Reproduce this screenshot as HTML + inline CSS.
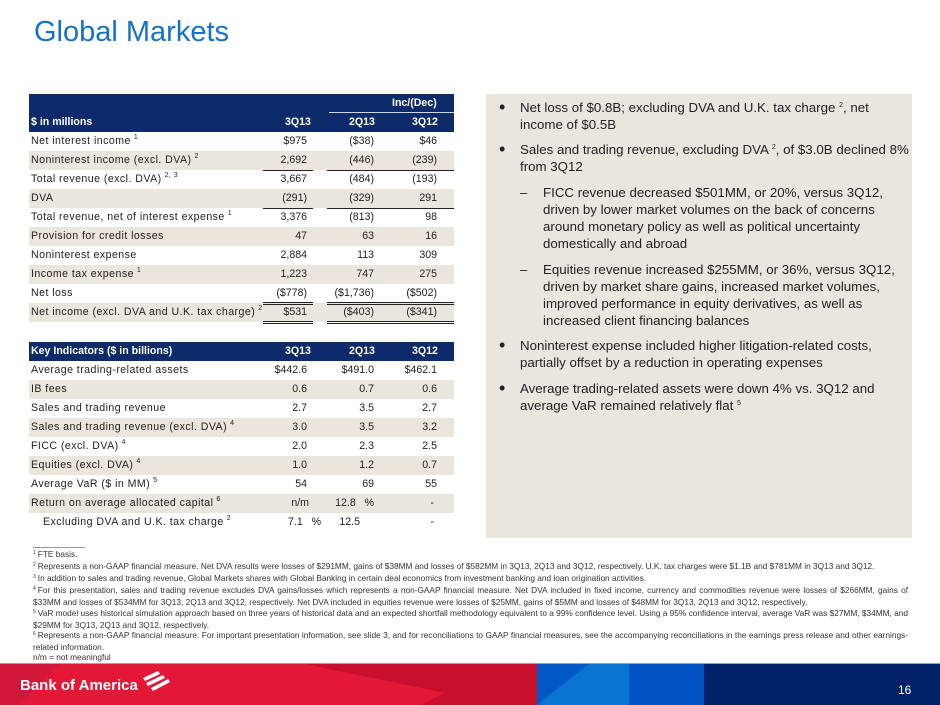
<!DOCTYPE html>
<html><head><meta charset="utf-8"><style>
*{margin:0;padding:0;box-sizing:border-box}
body{width:940px;height:705px;position:relative;overflow:hidden;background:#fff;font-family:"Liberation Sans",sans-serif}
.a{position:absolute}
.title{left:34px;top:16px;font-size:29px;color:#1471cc}
.tbl{position:absolute;left:29px;width:425px}
.row{position:absolute;left:0;width:425px;height:19px;font-size:10.6px;letter-spacing:0.45px;color:#222;line-height:19px}
.row.b{background:#ebe6dd}
.row .l{position:absolute;left:2px;top:0}
.row .c1,.row .c2,.row .c3{position:absolute;top:0;text-align:right;letter-spacing:0}
.c1{right:147px}.c2{right:80px}.c3{right:17px}
sup{font-size:7px;vertical-align:5px;margin-left:3px;line-height:0}
.hdr{position:absolute;background:#0d2a6b;color:#fff;font-weight:bold;font-size:10.6px;left:0;width:425px}
.hl{position:absolute}
.ln{position:absolute;height:1px;background:#222}
.box{left:486px;top:94px;width:426px;height:444px;background:#ebe6dd}
.bl{position:absolute;font-size:13.3px;line-height:17px;color:#222}
.dot{font-size:18px;line-height:17px}
.fn{position:absolute;left:33px;font-size:8.3px;color:#333;line-height:11.5px;width:875px;text-align:justify}
.fn sup{margin:0 2px 0 0;font-size:5px;vertical-align:3px}
</style></head><body>
<div class="a title">Global Markets</div>

<div class="tbl" style="top:94px">
 <div class="hdr" style="top:0;height:38px">
  <div class="hl" style="left:363px;top:3px">Inc/(Dec)</div>
  <div style="position:absolute;left:300px;top:18px;width:125px;height:1px;background:#cfd6e6"></div>
  <div class="hl" style="left:2px;top:22px">$ in millions</div>
  <div class="hl" style="left:256px;top:22px">3Q13</div>
  <div class="hl" style="left:320px;top:22px">2Q13</div>
  <div class="hl" style="left:383px;top:22px">3Q12</div>
 </div>
 <div class="row" style="top:38px"><span class="l">Net interest income<sup>1</sup></span><span class="c1">$975</span><span class="c2">($38)</span><span class="c3">$46</span></div>
 <div class="row b" style="top:57px"><span class="l">Noninterest income (excl. DVA)<sup>2</sup></span><span class="c1">2,692</span><span class="c2">(446)</span><span class="c3">(239)</span></div>
 <div class="row" style="top:76px"><span class="l">Total revenue (excl. DVA)<sup>2, 3</sup></span><span class="c1">3,667</span><span class="c2">(484)</span><span class="c3">(193)</span></div>
 <div class="row b" style="top:95px"><span class="l">DVA</span><span class="c1">(291)</span><span class="c2">(329)</span><span class="c3">291</span></div>
 <div class="row" style="top:114px"><span class="l">Total revenue, net of interest expense<sup>1</sup></span><span class="c1">3,376</span><span class="c2">(813)</span><span class="c3">98</span></div>
 <div class="row b" style="top:133px"><span class="l">Provision for credit losses</span><span class="c1">47</span><span class="c2">63</span><span class="c3">16</span></div>
 <div class="row" style="top:152px"><span class="l">Noninterest expense</span><span class="c1">2,884</span><span class="c2">113</span><span class="c3">309</span></div>
 <div class="row b" style="top:171px"><span class="l">Income tax expense<sup>1</sup></span><span class="c1">1,223</span><span class="c2">747</span><span class="c3">275</span></div>
 <div class="row" style="top:190px"><span class="l">Net loss</span><span class="c1">($778)</span><span class="c2">($1,736)</span><span class="c3">($502)</span></div>
 <div class="row b" style="top:209px"><span class="l">Net income (excl. DVA and U.K. tax charge)<sup>2</sup></span><span class="c1">$531</span><span class="c2">($403)</span><span class="c3">($341)</span></div>
 <div class="ln" style="top:76px;left:234px;width:50px"></div><div class="ln" style="top:76px;left:298px;width:127px"></div>
 <div class="ln" style="top:114px;left:234px;width:50px"></div><div class="ln" style="top:114px;left:298px;width:127px"></div>
 <div class="ln" style="top:208px;left:234px;width:50px"></div><div class="ln" style="top:208px;left:298px;width:127px"></div>
 <div class="ln" style="top:210px;left:234px;width:50px"></div><div class="ln" style="top:210px;left:298px;width:127px"></div>
 <div class="ln" style="top:227px;left:234px;width:50px"></div><div class="ln" style="top:227px;left:298px;width:127px"></div>
 <div class="ln" style="top:229px;left:234px;width:50px"></div><div class="ln" style="top:229px;left:298px;width:127px"></div>
</div>

<div class="tbl" style="top:342px">
 <div class="hdr" style="top:0;height:19px;line-height:19px">
  <div class="hl" style="left:2px">Key Indicators ($ in billions)</div>
  <div class="hl" style="left:256px">3Q13</div>
  <div class="hl" style="left:320px">2Q13</div>
  <div class="hl" style="left:383px">3Q12</div>
 </div>
 <div class="row" style="top:19px"><span class="l">Average trading-related assets</span><span class="c1">$442.6</span><span class="c2">$491.0</span><span class="c3">$462.1</span></div>
 <div class="row b" style="top:38px"><span class="l">IB fees</span><span class="c1">0.6</span><span class="c2">0.7</span><span class="c3">0.6</span></div>
 <div class="row" style="top:57px"><span class="l">Sales and trading revenue</span><span class="c1">2.7</span><span class="c2">3.5</span><span class="c3">2.7</span></div>
 <div class="row b" style="top:76px"><span class="l">Sales and trading revenue (excl. DVA)<sup>4</sup></span><span class="c1">3.0</span><span class="c2">3.5</span><span class="c3">3.2</span></div>
 <div class="row" style="top:95px"><span class="l">FICC (excl. DVA)<sup>4</sup></span><span class="c1">2.0</span><span class="c2">2.3</span><span class="c3">2.5</span></div>
 <div class="row b" style="top:114px"><span class="l">Equities (excl. DVA)<sup>4</sup></span><span class="c1">1.0</span><span class="c2">1.2</span><span class="c3">0.7</span></div>
 <div class="row" style="top:133px"><span class="l">Average VaR ($ in MM)<sup>5</sup></span><span class="c1">54</span><span class="c2">69</span><span class="c3">55</span></div>
 <div class="row b" style="top:152px"><span class="l">Return on average allocated capital<sup>6</sup></span><span class="c1" style="right:145px">n/m</span><span class="c2">12.8 &nbsp;&nbsp;%</span><span class="c3" style="right:20px">-</span></div>
 <div class="row" style="top:171px"><span class="l" style="left:14px">Excluding DVA and U.K. tax charge<sup>2</sup></span><span class="c1" style="right:133px">7.1 &nbsp;&nbsp;%</span><span class="c2" style="right:94px">12.5</span><span class="c3" style="right:20px">-</span></div>
</div>

<div class="a box"></div>
<div class="bl dot" style="left:499px;top:99px">•</div>
<div class="bl" style="left:520px;top:99px;width:385px">Net loss of $0.8B; excluding DVA and U.K. tax charge <sup style="margin:0">2</sup>, net income of $0.5B</div>
<div class="bl dot" style="left:499px;top:141px">•</div>
<div class="bl" style="left:520px;top:141px;width:390px">Sales and trading revenue, excluding DVA <sup style="margin:0">2</sup>, of $3.0B declined 8% from 3Q12</div>
<div class="bl" style="left:520px;top:184px">–</div>
<div class="bl" style="left:543px;top:184px;width:365px">FICC revenue decreased $501MM, or 20%, versus 3Q12, driven by lower market volumes on the back of concerns around monetary policy as well as political uncertainty domestically and abroad</div>
<div class="bl" style="left:520px;top:261px">–</div>
<div class="bl" style="left:543px;top:261px;width:365px">Equities revenue increased $255MM, or 36%, versus 3Q12, driven by market share gains, increased market volumes, improved performance in equity derivatives, as well as increased client financing balances</div>
<div class="bl dot" style="left:499px;top:337px">•</div>
<div class="bl" style="left:520px;top:337px;width:385px">Noninterest expense included higher litigation-related costs, partially offset by a reduction in operating expenses</div>
<div class="bl dot" style="left:499px;top:380px">•</div>
<div class="bl" style="left:520px;top:380px;width:385px">Average trading-related assets were down 4% vs. 3Q12 and average VaR remained relatively flat <sup style="margin:0">5</sup></div>

<div class="a" style="left:33px;top:547px;width:52px;height:1px;background:#999"></div>
<div class="fn" style="top:549px"><sup>1</sup>FTE basis.</div>
<div class="fn" style="top:561px"><sup>2</sup>Represents a non-GAAP financial measure. Net DVA results were losses of $291MM, gains of $38MM and losses of $582MM in 3Q13, 2Q13 and 3Q12, respectively. U.K. tax charges were $1.1B and $781MM in 3Q13 and 3Q12.</div>
<div class="fn" style="top:573px"><sup>3</sup>In addition to sales and trading revenue, Global Markets shares with Global Banking in certain deal economics from investment banking and loan origination activities.</div>
<div class="fn" style="top:585px"><sup>4</sup>For this presentation, sales and trading revenue excludes DVA gains/losses which represents a non-GAAP financial measure. Net DVA included in fixed income, currency and commodities revenue were losses of $266MM, gains of $33MM and losses of $534MM for 3Q13, 2Q13 and 3Q12, respectively. Net DVA included in equities revenue were losses of $25MM, gains of $5MM and losses of $48MM for 3Q13, 2Q13 and 3Q12, respectively.</div>
<div class="fn" style="top:608px"><sup>5</sup>VaR model uses historical simulation approach based on three years of historical data and an expected shortfall methodology equivalent to a 99% confidence level. Using a 95% confidence interval, average VaR was $27MM, $34MM, and $29MM for 3Q13, 2Q13 and 3Q12, respectively.</div>
<div class="fn" style="top:630px"><sup>6</sup>Represents a non-GAAP financial measure. For important presentation information, see slide 3, and for reconciliations to GAAP financial measures, see the accompanying reconciliations in the earnings press release and other earnings-related information.</div>
<div class="fn" style="top:652px">n/m = not meaningful</div>

<svg class="a" style="left:0;top:663px" width="940" height="42">
 <rect x="0" y="0" width="540" height="42" fill="#e31837"/>
 <polygon points="0,0 60,0 20,42 0,42" fill="#d3173a"/>
 <polygon points="300,0 480,0 445,30" fill="#c8102e"/>
 <polygon points="480,0 540,0 540,42 420,42 445,30" fill="#c8102e"/>
 <rect x="537" y="0" width="92" height="42" fill="#0a74d3"/>
 <polygon points="537,0 590,0 537,42" fill="#0058c7"/>
 <rect x="629" y="0" width="76" height="42" fill="#0052c2"/>
 <rect x="704" y="0" width="236" height="42" fill="#012169"/>
 <line x1="0" y1="0.5" x2="940" y2="0.5" stroke="#f08090" stroke-width="1"/>
 <text x="20" y="27" fill="#fff" font-family="Liberation Sans Narrow, Liberation Sans, sans-serif" font-weight="bold" font-size="15">Bank of America</text>
 <g fill="#fff"><polygon points="143,15 158,8 160,11 145,18"/><polygon points="146,20 163,12 165,15 148,23"/><polygon points="151,25 168,16 170,19 153,28"/></g>
 <text x="898" y="31" fill="#fff" font-family="Liberation Sans, sans-serif" font-size="12">16</text>
</svg>
</body></html>
